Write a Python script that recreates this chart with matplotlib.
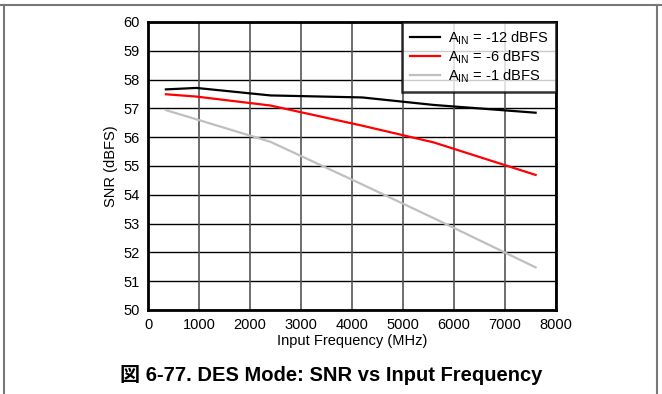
import matplotlib.pyplot as plt
from matplotlib.lines import Line2D

plt.rcParams['font.family'] = ['Liberation Sans', 'Noto Sans CJK JP', 'DejaVu Sans']
plt.rcParams['mathtext.fontset'] = 'custom'
plt.rcParams['mathtext.rm'] = 'Liberation Sans'
plt.rcParams['mathtext.it'] = 'Liberation Sans'

# Input frequency (MHz) and SNR (dBFS) per input amplitude
freq = [350, 950, 2400, 4200, 5600, 7600]
snr_m12 = [57.66, 57.71, 57.45, 57.38, 57.12, 56.85]
snr_m6 = [57.49, 57.41, 57.10, 56.40, 55.82, 54.69]
snr_m1 = [56.94, 56.62, 55.84, 54.36, 53.19, 51.48]

x_ticks = [0, 1000, 2000, 3000, 4000, 5000, 6000, 7000, 8000]
y_ticks = list(range(50, 61))

fig = plt.figure(figsize=(6.62, 3.94), dpi=100)
ax = fig.add_axes([0.2236, 0.2132, 0.6163, 0.731])

# grid: black horizontals, grey verticals
for y in y_ticks:
    ax.axhline(y, color='black', lw=1, zorder=1)
for x in x_ticks:
    ax.axvline(x, color='#555555', lw=1.2, zorder=1)

ax.plot(freq, snr_m12, color='black', lw=1.6, label=r'A$_{\rm IN}$ = -12 dBFS', zorder=3)
ax.plot(freq, snr_m6, color='#ff0000', lw=1.6, label=r'A$_{\rm IN}$ = -6 dBFS', zorder=3)
ax.plot(freq, snr_m1, color='#bfbfbf', lw=1.6, label=r'A$_{\rm IN}$ = -1 dBFS', zorder=3)

ax.set_xlim(0, 8000)
ax.set_ylim(50, 60)
ax.set_xticks(x_ticks)
ax.set_yticks(y_ticks)
ax.tick_params(length=0, labelsize=10.5, pad=6)
for s in ax.spines.values():
    s.set_linewidth(2)
    s.set_color('black')
    s.set_zorder(4)

ax.set_xlabel('Input Frequency (MHz)', fontsize=10.5, labelpad=1)
ax.set_ylabel('SNR (dBFS)', fontsize=10.5, labelpad=4)

leg = ax.legend(loc='upper right', fontsize=10.5, frameon=True, fancybox=False,
                borderaxespad=0, handlelength=2.1, handletextpad=0.55,
                labelspacing=0.12, borderpad=0.5)
leg.get_frame().set_edgecolor('black')
leg.get_frame().set_linewidth(1.8)
leg.set_zorder(5)

fig.text(0.5, 0.048, '図 6-77. DES Mode: SNR vs Input Frequency',
         ha='center', va='center', fontsize=14.5, fontweight='bold')

# page frame around the figure block
fig.add_artist(Line2D([0, 1], [1 - 5 / 394] * 2, color='#777777', lw=1.5))
fig.add_artist(Line2D([4 / 662] * 2, [0, 1 - 5 / 394], color='#777777', lw=1.5))
fig.add_artist(Line2D([657 / 662] * 2, [0, 1 - 5 / 394], color='#777777', lw=1.5))

fig.savefig('out.png', dpi=100)
